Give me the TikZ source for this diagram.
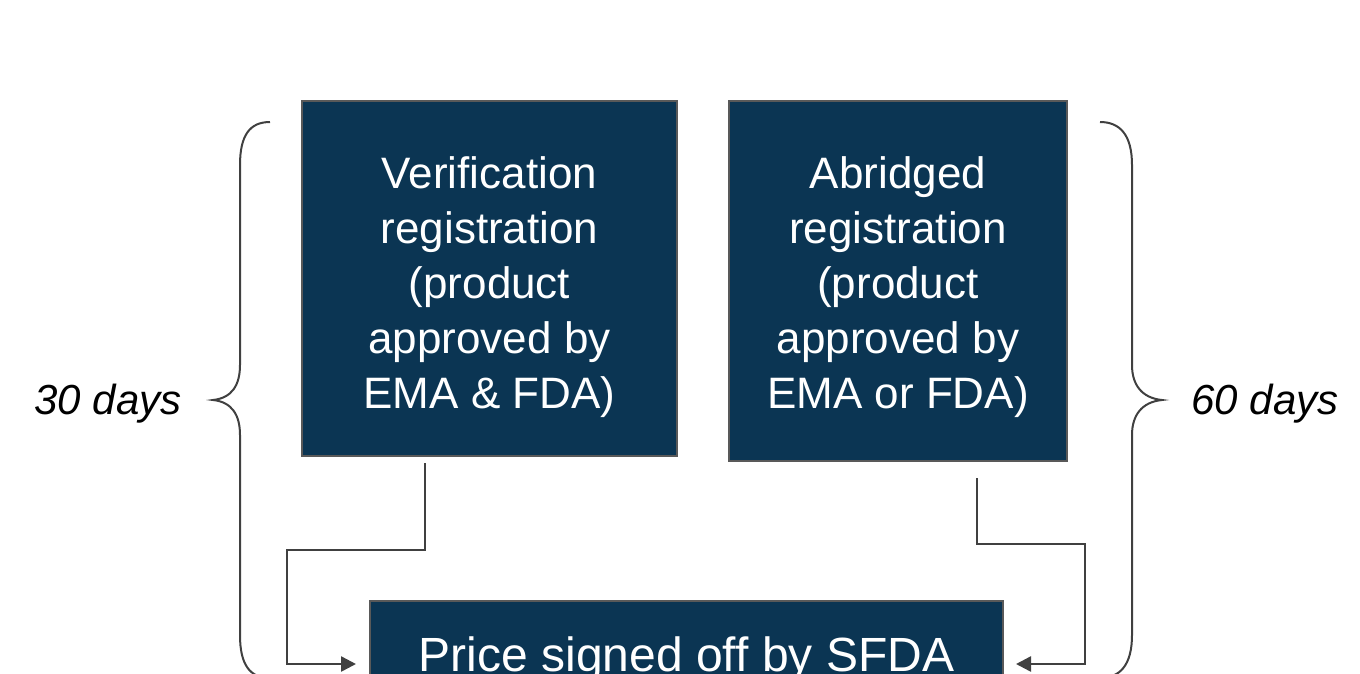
\documentclass[tikz,border=0pt]{standalone}
\usepackage{fontspec}
\setmainfont{Liberation Sans}
\usepackage{tikz}
\usetikzlibrary{arrows.meta, positioning}

\definecolor{navy}{RGB}{11,53,83}
\definecolor{rim}{RGB}{89,89,89}
\definecolor{wire}{RGB}{64,64,64}

\tikzset{
	regbox/.style={draw=rim, line width=2pt, fill=navy, text=white, align=center, inner sep=0pt,
		font=\fontsize{44}{55}\selectfont},
	conn/.style={draw=wire, line width=2.5pt, -{Triangle[length=15pt,width=15pt]}},
	brace/.style={draw=wire, line width=2pt},
	dayslabel/.style={font=\fontsize{42}{50}\selectfont\itshape}
}

\begin{document}
\begin{tikzpicture}[x=1pt, y=-1pt]
			\useasboundingbox (0,0) rectangle (1360,673);

			\node[regbox, minimum width=375pt, text height=307pt, text depth=48pt, anchor=north] (verif) at (489.5,100)
			{Verification\\registration\\(product\\approved by\\EMA \& FDA)};
			\node[regbox, minimum width=338pt, text height=307pt, text depth=53pt]
			(abridged) [right=50pt of verif.north east, anchor=north west] {Abridged\\registration\\(product\\approved by\\EMA or FDA)};
			\node[regbox, minimum width=633pt, text height=70pt, text depth=56pt,
			font=\fontsize{48}{55}\selectfont, anchor=north] (price) at (686.5,600) {Price signed off by SFDA};

			\coordinate (vstart) at (425,463);
			\coordinate (astart) at (977,478);

			\path[conn, shorten >=13pt]
			(vstart) -- ++(0,87) -- ++(-138,0) |- (price.west);
			\path[conn, shorten >=12pt]
			(astart) -- ++(0,66) -- ++(108,0) |- (price.east);

			% braces
			\coordinate (ltip) at (213,400);
			\coordinate (rtip) at (1162,400);
			\draw[brace] (270,122) .. controls (250,122) and (240,135) .. (240,165) -- (240,365)
			.. controls (240,385) and (232,398) .. (ltip) .. controls (232,402) and (240,415) .. (240,435)
			-- (240,635) .. controls (240,665) and (250,678) .. (270,678);
			\draw[brace] (1100,122) .. controls (1120,122) and (1132,135) .. (1132,165) -- (1132,365)
			.. controls (1132,385) and (1142,398) .. (rtip) .. controls (1142,402) and (1132,415) .. (1132,435)
			-- (1132,635) .. controls (1132,665) and (1120,678) .. (1100,678);

			\node[dayslabel, left=28pt of ltip, yshift=-4pt] (short) {30 days};
			\node[dayslabel, right=26pt of rtip, yshift=-4pt] (long) {60 days};
		\end{tikzpicture}
\end{document}
